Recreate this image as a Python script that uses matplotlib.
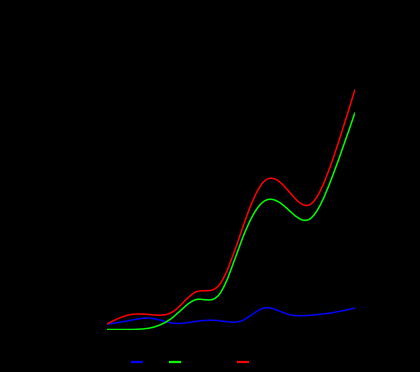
import numpy as np
import matplotlib
matplotlib.use('Agg')
import matplotlib.pyplot as plt
from matplotlib.path import Path
from matplotlib.patches import PathPatch
from matplotlib.lines import Line2D

months = ['Jan', 'Feb', 'Mar', 'Apr', 'May', 'Jun', 'Jul', 'Aug', 'Sep', 'Oct', 'Nov', 'Dec']
tax = [5.2, 8.8, 11.2, 6.2, 8.2, 8.8, 8.8, 21.5, 15.5, 14.2, 16.8, 21.5]
net_income = [0, 0, 1.8, 13, 30, 35, 89.5, 128.5, 121, 110.5, 153, 217]
total = [5, 14.5, 14.8, 18.5, 37.8, 44.5, 99.5, 148.5, 140.2, 124.8, 169, 240.2]

series_names = ['Tax', 'Revenue', 'Total']
series_colors = ['#0000ff', '#00ff00', '#ff0000']


def spline_path(xs, ys):
    # natural cubic spline through the points, drawn as bezier segments
    xs = np.asarray(xs, float)
    ys = np.asarray(ys, float)
    n = len(xs)
    h = np.diff(xs)
    A = np.zeros((n, n))
    b = np.zeros(n)
    A[0, 0] = A[-1, -1] = 1
    for i in range(1, n - 1):
        A[i, i - 1] = h[i - 1]
        A[i, i] = 2 * (h[i - 1] + h[i])
        A[i, i + 1] = h[i]
        b[i] = 6 * ((ys[i + 1] - ys[i]) / h[i] - (ys[i] - ys[i - 1]) / h[i - 1])
    M = np.linalg.solve(A, b)
    slopes = np.zeros(n)
    for i in range(n - 1):
        slopes[i] = (ys[i + 1] - ys[i]) / h[i] - h[i] * (2 * M[i] + M[i + 1]) / 6
    slopes[-1] = (ys[-1] - ys[-2]) / h[-1] + h[-1] * (M[-2] + 2 * M[-1]) / 6
    verts = [(xs[0], ys[0])]
    codes = [Path.MOVETO]
    for i in range(n - 1):
        d = h[i] / 3
        verts += [(xs[i] + d, ys[i] + d * slopes[i]),
                  (xs[i + 1] - d, ys[i + 1] - d * slopes[i + 1]),
                  (xs[i + 1], ys[i + 1])]
        codes += [Path.CURVE4] * 3
    return Path(verts, codes)


fig = plt.figure(figsize=(4.2, 3.72), dpi=100, facecolor='black')
ax = fig.add_axes([106 / 420, 1 - 329.5 / 372, 249 / 420, 270 / 372])
ax.set_facecolor('black')
x = np.arange(len(months))
ax.set_xlim(0, len(months) - 1)
ax.set_ylim(0, 270)
ax.set_xticks(x)
ax.set_xticklabels(months, color='black', fontsize=8)
ax.tick_params(colors='black', labelsize=8)
for s in ax.spines.values():
    s.set_color('black')

for vals, c in zip([tax, net_income, total], series_colors):
    ax.add_patch(PathPatch(spline_path(x, vals), fill=False, edgecolor=c, lw=1.1))

handles = [Line2D([], [], color=c, lw=1.6, solid_capstyle='butt') for c in series_colors]
leg = fig.legend(handles, series_names, loc='center left',
                 bbox_to_anchor=(131 / 420, 1 - 362.7 / 372),
                 ncol=3, frameon=False, fontsize=8, handlelength=1.1,
                 handletextpad=0.4, columnspacing=0.25, borderpad=0,
                 borderaxespad=0, labelcolor='black')

fig.savefig('out.png', dpi=100, facecolor='black')
